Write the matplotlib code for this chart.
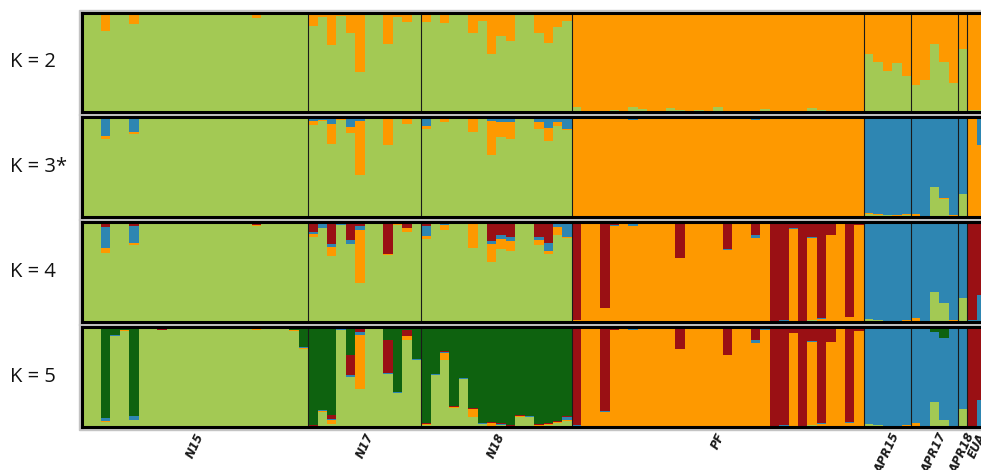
import numpy as np
import matplotlib.pyplot as plt
from matplotlib.patches import Rectangle

pops = ['N15', 'N17', 'N18', 'PF', 'APR15', 'APR17', 'APR18', 'EUA']
pop_sizes = [24, 12, 16, 31, 5, 5, 1, 2]
k_labels = ['K = 2', 'K = 3*', 'K = 4', 'K = 5']

# ancestry proportions per individual, cluster 1 (light green) is the rest of each bar
# K = 2
k2_orange = [0.01, 0.01, 0.19, 0.03, 0.03, 0.12, 0.01, 0.01, 0.02, 0.01, 0.015, 0.01,
             0.01, 0.01, 0.01, 0.01, 0.01, 0.01, 0.055, 0.01, 0.01, 0.01, 0.01, 0.02,
             0.14, 0.045, 0.33, 0.035, 0.21, 0.60, 0.02, 0.01, 0.32, 0.05, 0.10, 0.025,
             0.10, 0.03, 0.11, 0.02, 0.02, 0.21, 0.085, 0.42, 0.24, 0.29, 0.02, 0.01, 0.21, 0.31, 0.15, 0.085,
             0.95, 0.995, 0.995, 0.995, 0.975, 0.99, 0.95, 0.97, 0.995, 0.995, 0.96, 0.98, 0.99, 0.98, 0.99, 0.95,
             0.995, 0.995, 0.995, 0.995, 0.965, 0.995, 0.995, 0.985, 0.995, 0.955, 0.975, 0.995, 0.995, 0.995, 0.995,
             0.415, 0.495, 0.585, 0.51, 0.64,
             0.73, 0.68, 0.32, 0.495, 0.705,
             0.37,
             0.98, 0.98]

# K = 3
k3_orange = [0.005, 0.005, 0.035, 0.01, 0.005, 0.015, 0.0, 0.0, 0.005, 0.0, 0.005, 0.0,
             0.0, 0.0, 0.0, 0.0, 0.0, 0.0, 0.01, 0.0, 0.0, 0.0, 0.005, 0.005,
             0.035, 0.01, 0.20, 0.005, 0.06, 0.54, 0.005, 0.005, 0.26, 0.005, 0.065, 0.005,
             0.025, 0.005, 0.03, 0.005, 0.005, 0.14, 0.005, 0.34, 0.145, 0.175, 0.005, 0.005, 0.065, 0.13, 0.045, 0.01,
             0.98, 0.99, 0.99, 0.99, 0.99, 0.99, 0.96, 0.975, 0.99, 0.99, 0.98, 0.985, 0.99, 0.99, 0.99, 0.98,
             0.99, 0.99, 0.99, 0.965, 0.975, 0.99, 0.985, 0.985, 0.99, 0.98, 0.985, 0.985, 0.99, 0.99, 0.99,
             0.01, 0.005, 0.005, 0.005, 0.01,
             0.025, 0.005, 0.005, 0.005, 0.01,
             0.0,
             0.99, 0.715]
k3_blue = [0.01, 0.01, 0.19, 0.01, 0.005, 0.155, 0.005, 0.005, 0.005, 0.005, 0.005, 0.005,
           0.005, 0.005, 0.005, 0.005, 0.005, 0.005, 0.005, 0.005, 0.005, 0.005, 0.01, 0.015,
           0.045, 0.035, 0.07, 0.025, 0.10, 0.045, 0.01, 0.005, 0.02, 0.015, 0.01, 0.005,
           0.095, 0.005, 0.025, 0.005, 0.005, 0.015, 0.005, 0.04, 0.055, 0.05, 0.01, 0.005, 0.055, 0.11, 0.05, 0.12,
           0.01, 0.005, 0.005, 0.005, 0.005, 0.005, 0.03, 0.02, 0.005, 0.005, 0.01, 0.01, 0.005, 0.005, 0.005, 0.01,
           0.005, 0.005, 0.005, 0.03, 0.015, 0.005, 0.01, 0.01, 0.005, 0.01, 0.01, 0.01, 0.005, 0.005, 0.005,
           0.965, 0.975, 0.98, 0.985, 0.975,
           0.975, 0.995, 0.70, 0.815, 0.98,
           0.775,
           0.01, 0.285]

# K = 4
k4_orange = [0.003, 0.003, 0.045, 0.003, 0.003, 0.02, 0.003, 0.003, 0.003, 0.003, 0.003, 0.003,
             0.003, 0.003, 0.003, 0.003, 0.003, 0.003, 0.01, 0.003, 0.003, 0.003, 0.01, 0.003,
             0.03, 0.005, 0.085, 0.005, 0.005, 0.53, 0.005, 0.003, 0.005, 0.02, 0.035, 0.005,
             0.03, 0.003, 0.05, 0.003, 0.003, 0.25, 0.01, 0.18, 0.10, 0.10, 0.003, 0.003, 0.05, 0.03, 0.075, 0.015,
             0.005, 0.975, 0.98, 0.13, 0.955, 0.99, 0.955, 0.98, 0.985, 0.985, 0.98, 0.63, 0.99, 0.975, 0.99, 0.975,
             0.715, 0.99, 0.99, 0.83, 0.97, 0.005, 0.008, 0.925, 0.005, 0.815, 0.02, 0.86, 0.975, 0.04, 0.96,
             0.003, 0.003, 0.003, 0.003, 0.005,
             0.035, 0.003, 0.003, 0.003, 0.01,
             0.0,
             0.005, 0.0]
k4_blue = [0.003, 0.003, 0.21, 0.01, 0.003, 0.175, 0.003, 0.003, 0.003, 0.003, 0.003, 0.003,
           0.003, 0.003, 0.003, 0.003, 0.003, 0.003, 0.003, 0.003, 0.003, 0.003, 0.003, 0.01,
           0.025, 0.05, 0.035, 0.02, 0.04, 0.035, 0.005, 0.003, 0.005, 0.005, 0.005, 0.003,
           0.10, 0.003, 0.03, 0.003, 0.003, 0.005, 0.003, 0.035, 0.045, 0.04, 0.005, 0.003, 0.03, 0.085, 0.04, 0.135,
           0.005, 0.01, 0.01, 0.005, 0.005, 0.003, 0.035, 0.01, 0.003, 0.003, 0.003, 0.005, 0.003, 0.01, 0.003, 0.01,
           0.005, 0.003, 0.003, 0.035, 0.005, 0.003, 0.005, 0.01, 0.003, 0.01, 0.005, 0.005, 0.01, 0.005, 0.005,
           0.962, 0.972, 0.982, 0.987, 0.98,
           0.96, 0.994, 0.694, 0.802, 0.96,
           0.76,
           0.01, 0.27]
k4_red = [0.005, 0.005, 0.055, 0.01, 0.005, 0.04, 0.005, 0.005, 0.015, 0.005, 0.015, 0.005,
          0.005, 0.005, 0.005, 0.005, 0.005, 0.005, 0.03, 0.005, 0.005, 0.005, 0.005, 0.01,
          0.10, 0.01, 0.22, 0.01, 0.18, 0.045, 0.01, 0.005, 0.32, 0.01, 0.06, 0.005,
          0.04, 0.005, 0.005, 0.005, 0.005, 0.01, 0.01, 0.19, 0.13, 0.155, 0.01, 0.005, 0.15, 0.21, 0.015, 0.015,
          0.98, 0.01, 0.005, 0.86, 0.035, 0.005, 0.005, 0.005, 0.01, 0.01, 0.01, 0.36, 0.005, 0.01, 0.005, 0.005,
          0.275, 0.005, 0.005, 0.13, 0.015, 0.99, 0.985, 0.06, 0.99, 0.155, 0.965, 0.13, 0.01, 0.95, 0.03,
          0.01, 0.01, 0.005, 0.005, 0.005,
          0.005, 0.003, 0.003, 0.005, 0.025,
          0.0,
          0.98, 0.73]

# K = 5
k5_orange = [0.002, 0.002, 0.01, 0.002, 0.01, 0.002, 0.002, 0.002, 0.002, 0.002, 0.002, 0.002,
             0.002, 0.002, 0.002, 0.002, 0.002, 0.002, 0.01, 0.002, 0.002, 0.002, 0.01, 0.002,
             0.003, 0.003, 0.04, 0.003, 0.005, 0.54, 0.003, 0.002, 0.005, 0.003, 0.035, 0.003,
             0.003, 0.003, 0.075, 0.003, 0.003, 0.08, 0.003, 0.04, 0.003, 0.003, 0.003, 0.003, 0.003, 0.003, 0.01, 0.003,
             0.002, 0.984, 0.984, 0.142, 0.959, 0.984, 0.965, 0.984, 0.984, 0.984, 0.974, 0.774, 0.984, 0.984, 0.984, 0.97,
             0.709, 0.984, 0.984, 0.837, 0.955, 0.004, 0.009, 0.929, 0.002, 0.835, 0.029, 0.839, 0.979, 0.039, 0.954,
             0.003, 0.003, 0.003, 0.003, 0.005,
             0.04, 0.002, 0.003, 0.003, 0.005,
             0.0,
             0.003, 0.0]
k5_blue = [0.002, 0.002, 0.03, 0.01, 0.002, 0.04, 0.002, 0.002, 0.002, 0.002, 0.002, 0.002,
           0.002, 0.002, 0.002, 0.005, 0.002, 0.002, 0.002, 0.002, 0.002, 0.002, 0.002, 0.015,
           0.003, 0.01, 0.01, 0.01, 0.02, 0.03, 0.01, 0.003, 0.01, 0.01, 0.005, 0.01,
           0.003, 0.005, 0.01, 0.005, 0.01, 0.005, 0.003, 0.005, 0.003, 0.003, 0.003, 0.003, 0.003, 0.005, 0.003, 0.035,
           0.003, 0.003, 0.003, 0.01, 0.003, 0.003, 0.02, 0.003, 0.003, 0.003, 0.003, 0.003, 0.003, 0.003, 0.003, 0.01,
           0.003, 0.003, 0.003, 0.03, 0.01, 0.003, 0.003, 0.003, 0.003, 0.01, 0.003, 0.003, 0.003, 0.003, 0.003,
           0.954, 0.969, 0.979, 0.979, 0.979,
           0.947, 0.994, 0.70, 0.815, 0.962,
           0.805,
           0.005, 0.27]
k5_red = [0.002, 0.002, 0.002, 0.002, 0.002, 0.002, 0.002, 0.002, 0.01, 0.002, 0.002, 0.002,
          0.002, 0.002, 0.002, 0.002, 0.002, 0.002, 0.02, 0.002, 0.002, 0.002, 0.002, 0.002,
          0.01, 0.003, 0.04, 0.003, 0.20, 0.05, 0.003, 0.002, 0.33, 0.003, 0.06, 0.003,
          0.01, 0.005, 0.005, 0.003, 0.003, 0.003, 0.005, 0.01, 0.01, 0.005, 0.005, 0.003, 0.01, 0.01, 0.003, 0.003,
          0.97, 0.005, 0.005, 0.83, 0.03, 0.005, 0.005, 0.005, 0.005, 0.005, 0.005, 0.205, 0.005, 0.005, 0.005, 0.005,
          0.28, 0.005, 0.005, 0.12, 0.005, 0.985, 0.98, 0.06, 0.99, 0.12, 0.96, 0.15, 0.01, 0.95, 0.035,
          0.003, 0.003, 0.003, 0.005, 0.003,
          0.01, 0.002, 0.002, 0.002, 0.025,
          0.0,
          0.98, 0.73]
k5_dkgreen = [0.005, 0.005, 0.91, 0.085, 0.035, 0.89, 0.005, 0.01, 0.02, 0.005, 0.02, 0.005,
              0.005, 0.01, 0.005, 0.005, 0.005, 0.005, 0.005, 0.005, 0.005, 0.005, 0.03, 0.20,
              0.98, 0.83, 0.88, 0.02, 0.28, 0.005, 0.01, 0.005, 0.13, 0.65, 0.03, 0.32,
              0.96, 0.47, 0.245, 0.795, 0.51, 0.815, 0.96, 0.95, 0.965, 0.985, 0.885, 0.89, 0.97, 0.96, 0.945, 0.895,
              0.015, 0.005, 0.005, 0.015, 0.005, 0.005, 0.005, 0.005, 0.005, 0.005, 0.015, 0.015, 0.005, 0.005, 0.005, 0.005,
              0.005, 0.005, 0.005, 0.01, 0.02, 0.005, 0.005, 0.005, 0.005, 0.02, 0.005, 0.005, 0.005, 0.005, 0.005,
              0.015, 0.01, 0.005, 0.003, 0.003,
              0.003, 0.002, 0.05, 0.11, 0.003,
              0.015,
              0.01, 0.0]

c_lgreen = '#a3c954'
c_orange = '#fe9900'
c_blue = '#2e86b2'
c_red = '#9a1014'
c_dgreen = '#0e620f'

panels = [
    [(k2_orange, c_orange)],
    [(k3_orange, c_orange), (k3_blue, c_blue)],
    [(k4_orange, c_orange), (k4_blue, c_blue), (k4_red, c_red)],
    [(k5_orange, c_orange), (k5_blue, c_blue), (k5_red, c_red), (k5_dkgreen, c_dgreen)],
]

W, H = 981, 470
fig = plt.figure(figsize=(W / 100, H / 100), dpi=100)

n = sum(pop_sizes)
x = np.arange(n)
bounds = np.cumsum(pop_sizes)
centers = bounds - np.array(pop_sizes) / 2

# panel edges in pixels (top, bottom)
rows = [(12.5, 112), (117, 216.5), (221.5, 322), (326.5, 427)]
left_px = 82
right_px = left_px + n * 9.42

for i, (comps, (top, bot)) in enumerate(zip(panels, rows)):
    # light grey rim around each panel
    rim = Rectangle(((left_px - 3) / W, 1 - (bot + 3) / H),
                    (right_px - left_px + 6) / W, (bot - top + 6) / H,
                    transform=fig.transFigure, color='#c4c4c4', zorder=-5)
    fig.add_artist(rim)
    ax = fig.add_axes([left_px / W, 1 - bot / H, (right_px - left_px) / W, (bot - top) / H])
    ax.set_zorder(1)
    base = 1 - np.sum([np.array(v) for v, c in comps], axis=0)
    ax.bar(x, base, width=1, align='edge', color=c_lgreen, linewidth=0)
    bottom = base.copy()
    for vals, col in comps:
        vals = np.array(vals)
        ax.bar(x, vals, width=1, bottom=bottom, align='edge', color=col, linewidth=0)
        bottom += vals
    for b in bounds[:-1]:
        ax.axvline(b, color='#1a1a1a', lw=0.8)
    ax.set_xlim(0, n)
    ax.set_ylim(0, 1)
    ax.set_yticks([])
    for s in ax.spines.values():
        s.set_linewidth(2.2)
        s.set_color('black')
    if i < 3:
        ax.set_xticks([])
    else:
        ax.set_xticks(centers)
        ax.set_xticklabels(pops, rotation=65, ha='center', fontsize=8.5,
                           fontstyle='italic', fontweight='bold', color='#1a1a1a')
        ax.tick_params(axis='x', length=0, pad=3)
    fig.text(10 / W, 1 - (top + bot) / 2 / H, k_labels[i], fontsize=14.5,
             family='Open Sans', va='center', ha='left', color='#111111')

fig.savefig('out.png', dpi=100)
